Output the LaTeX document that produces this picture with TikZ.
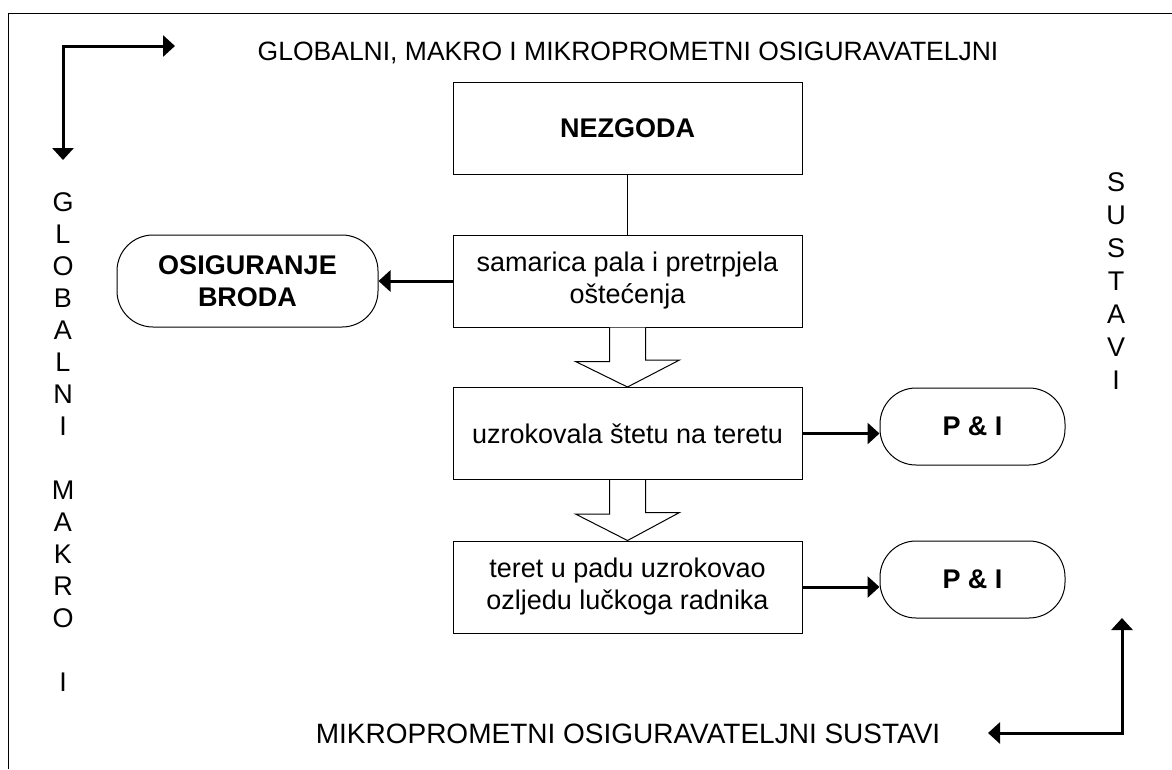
\documentclass[tikz,border=0pt]{standalone}
\usepackage{fontspec}
\setmainfont{Liberation Sans}
\usetikzlibrary{arrows.meta}

\begin{document}
\begin{tikzpicture}[x=1pt,y=-1pt,
    thickarrow/.style={line width=3pt,-{Triangle[width=21pt,length=12pt]}},
    cornerarrow/.style={line width=3pt,{Triangle[width=21pt,length=12pt]}-{Triangle[width=21pt,length=12pt]}},
    hollow/.style={draw,line width=1pt,fill=white}]

        \useasboundingbox (0,0) rectangle (1172,769);
        \draw[line width=1pt] (8,769) -- (8,13) -- (1172,13);

        \begin{scope}[every node/.style={draw,line width=1pt,minimum width=349pt,minimum height=92pt,align=center,font=\fontsize{27}{32}\selectfont}]
          \node (nezgoda)  at (627.5,128)   {\textbf{NEZGODA}};
          \node (samarica) at (627.5,281)   {samarica pala i pretrpjela\\ oštećenja};
          \node (uzrok)    at (627.5,433.5) {uzrokovala štetu na teretu};
          \node (teret)    at (627.5,587)   {teret u padu uzrokovao\\ ozljedu lučkoga radnika};
        \end{scope}

        \begin{scope}[every node/.style={draw,line width=1pt,rounded corners=36pt,align=center,font=\fontsize{27}{32}\selectfont\bfseries}]
          \node[minimum width=261pt,minimum height=92pt] (brod) at (247.5,281)   {OSIGURANJE\\ BRODA};
          \node[minimum width=185pt,minimum height=77pt] (pi1)  at (972.5,426.5) {P \& I};
          \node[minimum width=185pt,minimum height=77pt] (pi2)  at (972.5,579.5) {P \& I};
        \end{scope}

        \begin{scope}[every node/.style={inner sep=0pt}]
          \node[font=\fontsize{26.5}{32}\selectfont,anchor=base] (gornji) at (628,60) {GLOBALNI, MAKRO I MIKROPROMETNI OSIGURAVATELJNI};
          \node[font=\fontsize{28}{32}\selectfont,anchor=base] (donji) at (628,743) {MIKROPROMETNI OSIGURAVATELJNI SUSTAVI};
          \node[font=\fontsize{27}{32}\selectfont,align=center,anchor=north] (lijevi) at (63,192)
            {G\\L\\O\\B\\A\\L\\N\\I\\~\\M\\A\\K\\R\\O\\~\\I};
          \node[font=\fontsize{27}{33}\selectfont,align=center,anchor=north] (desni) at (1116,172)
            {S\\U\\S\\T\\A\\V\\I};
        \end{scope}

        \coordinate (glkut)   at (63,46);
        \coordinate (gldesno) at (175,46);
        \coordinate (gldolje) at (63,160);
        \coordinate (ddkut)   at (1122,733);
        \coordinate (ddgore)  at (1122,618);
        \coordinate (ddlijevo) at (988,733);

        \draw[cornerarrow] (gldolje) -- (glkut) -- (gldesno);
        \draw[cornerarrow] (ddlijevo) -- (ddkut) -- (ddgore);

        \draw[line width=1pt] (nezgoda) -- (samarica);
        \draw[thickarrow] (samarica) -- (brod);
        \draw[thickarrow] (uzrok.east) -- (uzrok.east -| pi1.west);
        \draw[thickarrow] (teret.east) -- (teret.east -| pi2.west);

        \draw[hollow] ([xshift=-18pt]samarica.south) -- ++(0,34) -- ++(-34,0) -- (uzrok.north)
          -- ++(52,-27) -- ++(-34,0) -- ([xshift=18pt]samarica.south);
        \draw[hollow] ([xshift=-18pt]uzrok.south) -- ++(0,34) -- ++(-34,0) -- (teret.north)
          -- ++(52,-28) -- ++(-34,0) -- ([xshift=18pt]uzrok.south);

      \end{tikzpicture}
\end{document}
